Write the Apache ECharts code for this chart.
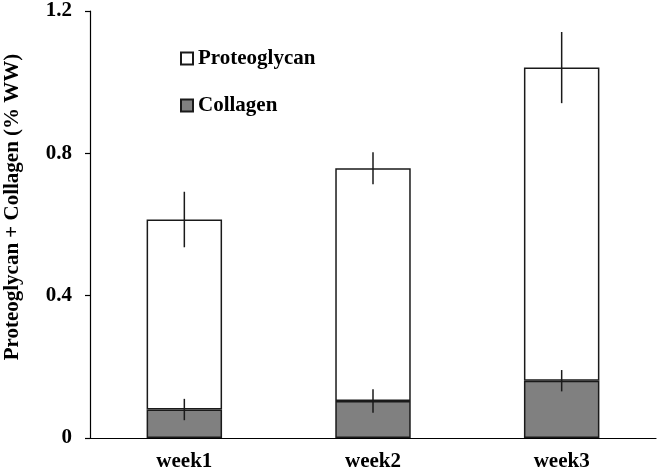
<!DOCTYPE html>
<html>
<head>
<meta charset="utf-8">
<script src="https://cdn.jsdelivr.net/npm/echarts@6/dist/echarts.min.js"></script>
<style>html,body{margin:0;padding:0;background:#fff}#c{width:660px;height:473px}</style>
</head>
<body>
<div id="c"></div>
<script>
var categories = ['week1', 'week2', 'week3'];
var collagen = [0.080, 0.104, 0.161];
var collagenErr = [0.030, 0.033, 0.030];
var proteoglycan = [0.534, 0.654, 0.880];
var totalErr = [0.078, 0.045, 0.100];
var yTicks = [0, 0.4, 0.8, 1.2];

var FONT = '"Liberation Serif", "Times New Roman", serif';
var totals = proteoglycan.map(function (v, i) { return v + collagen[i]; });
var errData = [];
categories.forEach(function (c, i) {
  errData.push([i, collagen[i] - collagenErr[i], collagen[i] + collagenErr[i]]);
  errData.push([i, totals[i] - totalErr[i], totals[i] + totalErr[i]]);
});

var chart = echarts.init(document.getElementById('c'));
chart.setOption({
  animation: false,
  backgroundColor: '#fff',
  grid: { left: 90, right: 4, top: 11, bottom: 35 },
  legend: {
    orient: 'vertical', left: 175, top: 43,
    itemWidth: 12, itemHeight: 12, itemGap: 26, icon: 'rect',
    data: ['Proteoglycan', 'Collagen'],
    textStyle: { fontFamily: FONT, fontWeight: 'bold', fontSize: 21, color: '#000' }
  },
  graphic: [{
    type: 'text',
    x: 13, y: 207, rotation: Math.PI / 2,
    style: {
      text: 'Proteoglycan + Collagen (% WW)',
      font: 'bold 21px ' + FONT, fill: '#000',
      textAlign: 'center', textVerticalAlign: 'middle'
    }
  }],
  xAxis: {
    type: 'category', data: categories,
    axisLine: { lineStyle: { color: '#000', width: 1.2 } },
    axisTick: { show: false },
    axisLabel: { fontFamily: FONT, fontWeight: 'bold', fontSize: 21, color: '#000', margin: 13 }
  },
  yAxis: {
    type: 'value', min: yTicks[0], max: yTicks[yTicks.length - 1], interval: 0.4,
    axisLine: { show: true, lineStyle: { color: '#000', width: 1.2 } },
    axisTick: { show: true, length: 5, lineStyle: { color: '#000', width: 1.2 } },
    splitLine: { show: false },
    axisLabel: { fontFamily: FONT, fontWeight: 'bold', fontSize: 21, color: '#000', margin: 18 }
  },
  series: [
    {
      name: 'Collagen', type: 'bar', stack: 'a', barWidth: '40%', data: collagen,
      itemStyle: { color: '#808080', borderColor: '#1a1a1a', borderWidth: 1.5 }
    },
    {
      name: 'Proteoglycan', type: 'bar', stack: 'a', barWidth: '40%', data: proteoglycan,
      itemStyle: { color: '#fff', borderColor: '#1a1a1a', borderWidth: 1.5 }
    },
    {
      type: 'custom', data: errData, z: 10,
      renderItem: function (params, api) {
        var p1 = api.coord([api.value(0), api.value(1)]);
        var p2 = api.coord([api.value(0), api.value(2)]);
        return {
          type: 'line',
          shape: { x1: p1[0], y1: p1[1], x2: p2[0], y2: p2[1] },
          style: { stroke: '#1a1a1a', lineWidth: 1.5 }
        };
      }
    }
  ]
});
</script>
</body>
</html>
